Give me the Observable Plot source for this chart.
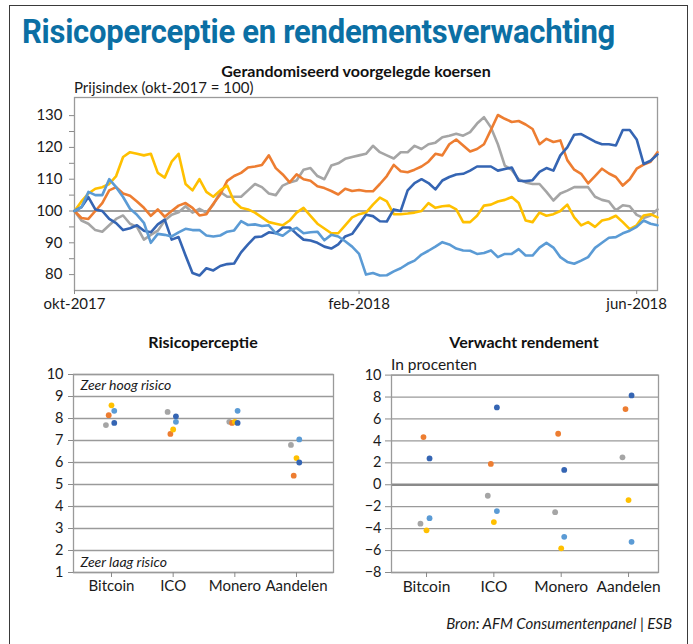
<!DOCTYPE html>
<html><head><meta charset="utf-8">
<script src="https://cdn.jsdelivr.net/npm/d3@7"></script>
<script src="https://cdn.jsdelivr.net/npm/@observablehq/plot@0.6"></script>
<style>
html,body{margin:0;padding:0;background:#fff;}
#fig{position:relative;width:693px;height:644px;overflow:hidden;font-family:Lato,"Open Sans",sans-serif;color:#1a1a1a;background:#fff;}
.abs{position:absolute;white-space:nowrap;line-height:1;}
#border{left:9px;top:5px;width:679px;height:720px;border:1.5px solid #3a3a3a;box-sizing:border-box;}
#title{left:22px;top:14px;font-family:Roboto,"Open Sans",sans-serif;font-weight:700;font-size:34px;color:#0B6FA4;transform-origin:0 0;letter-spacing:-0.3px;}
.sub{font-weight:700;font-size:16px;color:#111;}
#subtitle{left:208px;top:63px;}
#ylab{left:74px;top:80px;font-size:15px;}
#risktitle{left:144px;top:334px;}
#rettitle{left:450px;top:334px;}
#pct{left:391px;top:357px;font-size:15.5px;}
#src{right:21px;top:616px;font-size:15px;font-style:italic;}
#topchart{left:0;top:95px;}
#risk{left:0;top:360px;}
#ret{left:345px;top:360px;}
</style></head>
<body>
<div id="fig">
  <div id="border" class="abs"></div>
  <div id="title" class="abs">Risicoperceptie en rendementsverwachting</div>
  <div id="subtitle" class="abs sub">Gerandomiseerd voorgelegde koersen</div>
  <div id="ylab" class="abs">Prijsindex (okt-2017 = 100)</div>
  <div id="topchart" class="abs"></div>
  <div id="risktitle" class="abs sub">Risicoperceptie</div>
  <div id="rettitle" class="abs sub">Verwacht rendement</div>
  <div id="pct" class="abs">In procenten</div>
  <div id="risk" class="abs"></div>
  <div id="ret" class="abs"></div>
  <div id="src" class="abs">Bron: AFM Consumentenpanel | ESB</div>
</div>
<script>
// ---------- DATA ----------
const seriesNames = ["Grijs", "Oranje", "Geel", "Donkerblauw", "Lichtblauw"];
const seriesColors = ["#A5A5A5", "#ED7D31", "#FFC000", "#3565B3", "#5B9BD5"];

// price index, one value every 3 days from okt-2017
const startDate = "2017-10-01";
const stepDays = 3;
const grey = [100,97,96,94,93.5,95.5,97.5,98.6,96,95,
  91,92.5,93.8,97,98.8,99.6,101.5,99.5,100.7,99.5,
  102,106,104.5,104.5,104.5,106.5,108.5,107.5,105.5,105,
  108,109,109.6,113,113.5,111,110,114.3,115,116.4,
  117,117.5,118,120.5,118.5,117.5,116.5,118.5,118.5,120.5,
  119.5,121,121.5,123.2,123.7,124.3,123.7,124.8,127.5,129.5,
  126.3,121,114.3,112.9,110,109,108.5,108.5,106,103.3,
  105.5,106.4,107.5,107.5,107.5,104.5,103.5,103,100.2,101.8,
  101.5,98.8,97.8,98.6,100.5];
const orange = [100,97.8,97.5,100,102.5,106.5,107.5,105.5,104.8,103,
  101,98.5,100.5,98.2,100,101.7,102.5,101,98.6,99,
  102.3,105.2,109.5,111,112,113.7,114,114.5,117.5,113.5,
  111.5,109,111.5,110,109.5,107.8,107.2,106.3,105.2,107,
  106.3,106.6,106.2,106.2,108.5,111,114.5,112.5,112.2,113,
  114,115.5,118,117.5,121,122.5,120.6,118.7,119.5,121,
  125.5,130.2,129,128,128.3,127.2,125.8,121,122.7,121.7,
  122.2,116,113,111.7,108.7,111,113.3,111.8,110.7,108,
  110,113.3,114.6,115.5,118.5];
const yellow = [100,103,105.5,107,107.5,108.5,111,117,118.5,118,
  117.5,118,112,110.5,115.5,118,108.5,106.5,110,106,
  104.5,106.5,108,103,101,100.5,99.5,98,96.5,96,
  95.5,97,99.5,101,98.5,96,94.5,93,93,95.5,
  98,99,99.5,102,104.2,103,99,99,99.2,99.5,
  100,102.5,101,101.5,101.7,100.5,96.5,96.5,98.5,101.7,
  102,103,103.5,104.4,102.5,97,96.5,99.5,98.5,99,
  100,102,98,95.5,96.5,95,97,97.5,98.5,96.5,
  94.3,95.5,98.6,99,98];
const darkBlue = [100,101.2,104.4,100.5,100,97.5,96.2,94,94.6,95.5,
  93.8,93.3,95.8,97.3,91,91.8,86,80.5,79.7,82,
  81.3,82.7,83.3,83.5,87,89.5,91.8,92,93.3,93,
  94.8,94.8,92.8,91,90.7,90,88.8,88.2,89.5,92,
  92.8,95.8,98.8,98.4,96.8,96.7,100.5,100,106.5,108.8,
  110,108.8,106.8,109.6,110.7,111.5,111.7,112.7,114,114,
  114,112.7,113.2,113.7,109.5,109.4,109.7,112.3,113.5,112.7,
  117.5,120,124,124.2,123,121.8,121,121,120.6,125.5,
  125.5,122.5,114.8,115.8,117.8];
const lightBlue = [100,101.2,106,105,105,110,107.5,104.4,100.7,98.8,
  96.3,90,92.8,92.5,92,93.3,94.4,94,94,92.3,
  92,92.3,93.5,93.9,96.8,95.6,95.8,95.3,95.5,93,
  92.2,93.9,94.7,93,93.3,93.5,90.8,92.5,92,90.5,
  88.8,86.5,80,80.5,79.7,79.8,81,82,83.4,84.4,
  86.3,87.5,88.8,90.2,89.5,88.2,87.6,87.5,86.5,86.8,
  87.6,85.5,86.5,86.5,88,86,86,88.5,90,88.5,
  85.5,84,83.4,84.4,85.5,88.4,90,91.6,91.8,93,
  93.8,95,97,96,95.5];
const priceSeries = [grey, orange, yellow, darkBlue, lightBlue];
const priceYTicks = [80, 90, 100, 110, 120, 130];
const priceYMinor = [85, 95, 105, 115, 125];
const priceXTicks = ["2017-10-01", "2018-02-01", "2018-06-01"];
const priceXLabels = ["okt-2017", "feb-2018", "jun-2018"];
const priceEnd = "2018-06-10";

// dot panels
const categories = ["Bitcoin", "ICO", "Monero", "Aandelen"];
const seriesOffset = [-0.09, -0.045, 0, 0.045, 0.045];
const riskGrey = [7.7, 8.3, 7.85, 6.8];
const riskOrange = [8.15, 7.3, 7.8, 5.4];
const riskYellow = [8.6, 7.5, 7.85, 6.2];
const riskDarkBlue = [7.8, 8.1, 7.8, 6.0];
const riskLightBlue = [8.35, 7.85, 8.35, 7.05];
const retGrey = [-3.55, -1.0, -2.5, 2.5];
const retOrange = [4.35, 1.9, 4.65, 6.9];
const retYellow = [-4.15, -3.4, -5.8, -1.4];
const retDarkBlue = [2.4, 7.05, 1.35, 8.15];
const retLightBlue = [-3.05, -2.4, -4.75, -5.2];
const riskTicks = [1,2,3,4,5,6,7,8,9,10];
const retTicks = [-8,-6,-4,-2,0,2,4,6,8,10];
const riskNotes = [{label: "Zeer hoog risico", y: 9.5}, {label: "Zeer laag risico", y: 1.45}];

// ---------- BUILD ----------
const d0 = new Date(startDate);
const priceRows = [];
priceSeries.forEach((vals, k) => vals.forEach((v, i) =>
  priceRows.push({date: d3.utcDay.offset(d0, i * stepDays), value: v, series: seriesNames[k]})));
const xLabelMap = new Map(priceXTicks.map((d, i) => [+new Date(d), priceXLabels[i]]));

const baseStyle = {fontFamily: "Lato, 'Open Sans', sans-serif", fontSize: "14.5px", color: "#1a1a1a", background: "transparent", overflow: "visible"};
const colorScale = {domain: seriesNames, range: seriesColors};

const priceChart = Plot.plot({
  width: 693, height: 220,
  marginLeft: 74, marginRight: 36, marginTop: 2, marginBottom: 25,
  style: baseStyle,
  x: {type: "utc", domain: [new Date(startDate), new Date(priceEnd)], label: null},
  y: {domain: [75, 135.7], label: null},
  color: colorScale,
  marks: [
    Plot.frame({stroke: "#9a9a9a", strokeWidth: 1.3}),
    Plot.ruleY([100], {stroke: "#7f7f7f", strokeWidth: 1.5}),
    Plot.axisY({ticks: priceYTicks, label: null, tickSize: 5, tickPadding: 7, stroke: "#8a8a8a", fill: "#1a1a1a", fontSize: 15, tickFormat: d => String(d)}),
    Plot.axisY({ticks: priceYMinor, label: null, tickSize: 5, stroke: "#8a8a8a", tickFormat: () => ""}),
    Plot.axisX({ticks: priceXTicks.map(d => new Date(d)), label: null, tickSize: 4, tickPadding: 4, stroke: "#8a8a8a", fill: "#1a1a1a", fontSize: 15, tickFormat: d => xLabelMap.get(+d)}),
    Plot.line(priceRows, {x: "date", y: "value", z: "series", stroke: "series", strokeWidth: 2.6, strokeLinejoin: "round", strokeLinecap: "round"})
  ]
});
document.getElementById("topchart").appendChild(priceChart);

function dotRows(arrs) {
  const rows = [];
  arrs.forEach((vals, k) => vals.forEach((v, c) =>
    rows.push({pos: c + seriesOffset[k], value: v, series: seriesNames[k]})));
  return rows;
}
const riskRows = dotRows([riskGrey, riskOrange, riskYellow, riskDarkBlue, riskLightBlue]);
const retRows = dotRows([retGrey, retOrange, retYellow, retDarkBlue, retLightBlue]);

const riskChart = Plot.plot({
  width: 345, height: 242,
  marginLeft: 73, marginRight: 12, marginTop: 14, marginBottom: 30,
  style: baseStyle,
  x: {domain: [-0.616, 3.6], label: null},
  y: {domain: [1, 10], label: null},
  color: colorScale,
  marks: [
    Plot.ruleY(riskTicks, {stroke: "#9a9a9a", strokeWidth: 1.3}),
    Plot.frame({stroke: "#9a9a9a", strokeWidth: 1.3}),
    Plot.axisY({ticks: riskTicks, label: null, tickSize: 5, tickPadding: 5, stroke: "#8a8a8a", fill: "#1a1a1a", fontSize: 14.5, tickFormat: d => String(d)}),
    Plot.axisX({ticks: [0,1,2,3], label: null, tickSize: 5, tickPadding: 3, stroke: "#8a8a8a", fill: "#1a1a1a", fontSize: 15, tickFormat: i => categories[i]}),
    Plot.text(riskNotes, {x: -0.616, y: "y", text: "label", textAnchor: "start", dx: 7, fontStyle: "italic", fontSize: 14, fill: "#1a1a1a"}),
    Plot.dot(riskRows, {x: "pos", y: "value", fill: "series", r: 2.9})
  ]
});
document.getElementById("risk").appendChild(riskChart);

const retChart = Plot.plot({
  width: 345, height: 242,
  marginLeft: 46, marginRight: 32, marginTop: 14.6, marginBottom: 30,
  style: baseStyle,
  x: {domain: [-0.52, 3.445], label: null},
  y: {domain: [-8, 10], label: null},
  color: colorScale,
  marks: [
    Plot.ruleY(retTicks, {stroke: "#9a9a9a", strokeWidth: 1.3}),
    Plot.ruleY([0], {stroke: "#8a8a8a", strokeWidth: 2.4}),
    Plot.frame({stroke: "#9a9a9a", strokeWidth: 1.3}),
    Plot.axisY({ticks: retTicks, label: null, tickSize: 6, tickPadding: 4, stroke: "#8a8a8a", fill: "#1a1a1a", fontSize: 14.5}),
    Plot.axisX({ticks: [0,1,2,3], label: null, tickSize: 5, tickPadding: 3, stroke: "#8a8a8a", fill: "#1a1a1a", fontSize: 15.5, tickFormat: i => categories[i]}),
    Plot.dot(retRows, {x: "pos", y: "value", fill: "series", r: 2.9})
  ]
});
document.getElementById("ret").appendChild(retChart);

// fit header texts to measured widths in the reference
function fit(id, w) {
  const el = document.getElementById(id);
  const cur = el.getBoundingClientRect().width;
  if (cur > 0) el.style.transform = `scaleX(${w / cur})`;
}
function center(id, cx) {
  const el = document.getElementById(id);
  const w = el.getBoundingClientRect().width;
  el.style.left = (cx - w / 2) + "px";
}
fit("title", 593);
center("subtitle", 356);
center("risktitle", 203);
center("rettitle", 524);
</script>
</body></html>
